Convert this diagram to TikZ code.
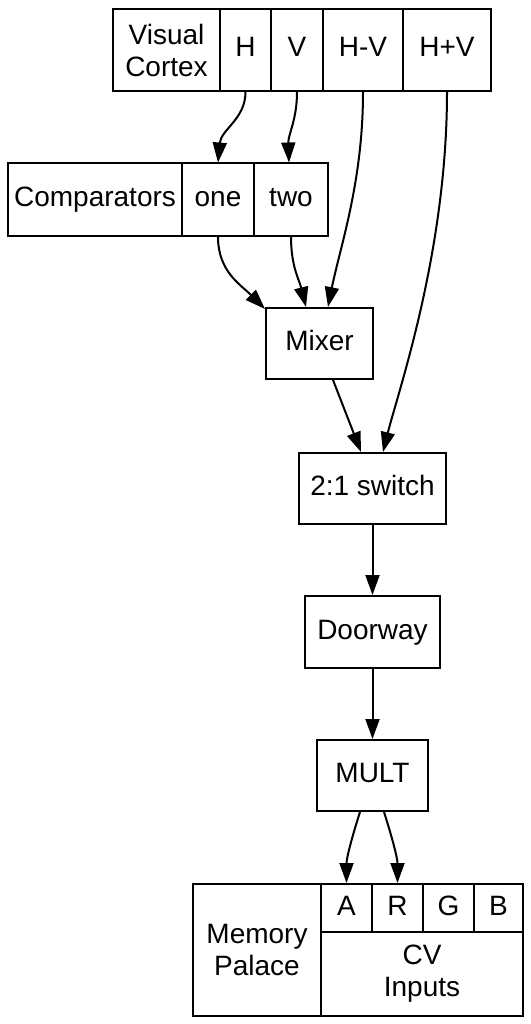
\documentclass[tikz,border=0pt]{standalone}
\usepackage{fontspec}
\setmainfont{Liberation Sans}
\usetikzlibrary{arrows.meta}
\tikzset{
  cell/.style={draw,line width=2pt,inner sep=0pt,align=center,
    font=\fontsize{28}{32}\selectfont},
  single/.style={cell,text height=20pt,text depth=6pt},
  link/.style={line width=2pt,-{Triangle[length=20pt,width=14pt]}}
}
\begin{document}
\begin{tikzpicture}[x=1pt,y=-1pt]
  \useasboundingbox (0,0) rectangle (530,1024);
  % Visual Cortex record
  \node[cell,minimum width=107pt,minimum height=82pt] (vc) at (166.5,50) {Visual\\Cortex};
  \node[single,minimum width=51pt,minimum height=82pt] (vch) at (245.5,50) {H};
  \node[single,minimum width=52pt,minimum height=82pt] (vcv) at (297,50) {V};
  \node[single,minimum width=80pt,minimum height=82pt] (vchmv) at (363,50) {H-V};
  \node[single,minimum width=88pt,minimum height=82pt] (vchpv) at (447,50) {H+V};
  % Comparators record
  \node[single,minimum width=174pt,minimum height=72pt] (cmp) at (95,199.5) {Comparators};
  \node[single,minimum width=72pt,minimum height=72pt] (cmpone) at (218,199.5) {one};
  \node[single,minimum width=74pt,minimum height=72pt] (cmptwo) at (291,199.5) {two};
  % chain
  \node[single,minimum width=107pt,minimum height=71pt] (mix) at (319.5,343.5) {Mixer};
  \node[single,minimum width=147pt,minimum height=71pt] (sw) at (372.5,488.5) {2:1 switch};
  \node[single,minimum width=135pt,minimum height=72pt] (door) at (372.5,632) {Doorway};
  \node[single,minimum width=111pt,minimum height=71pt] (mult) at (372.5,775.5) {MULT};
  % Memory Palace record
  \node[cell,minimum width=128pt,minimum height=132pt] (mp) at (257,950) {Memory\\Palace};
  \node[single,minimum width=51pt,minimum height=48pt] (mpa) at (346.5,908) {A};
  \node[single,minimum width=51pt,minimum height=48pt] (mpr) at (397.5,908) {R};
  \node[single,minimum width=51pt,minimum height=48pt] (mpg) at (448.5,908) {G};
  \node[single,minimum width=49pt,minimum height=48pt] (mpb) at (498.5,908) {B};
  \node[cell,minimum width=202pt,minimum height=84pt] (mpcv) at (422,974) {CV\\Inputs};
  % connectors
  \draw[link] (vch.south) .. controls +(0,27) and +(3,-33) .. (cmpone.north);
  \draw[link] (vcv.south) .. controls +(0,28) and +(-1,-28) .. ([xshift=-2pt]cmptwo.north);
  \draw[link] (vchmv.south) .. controls +(0,90) and +(12,-60) .. ([xshift=8.5pt]mix.north);
  \draw[link] (vchpv.south) .. controls +(0,160) and +(15,-60) .. ([xshift=10.5pt]sw.north);
  \draw[link] (cmpone.south) .. controls +(0,35) and +(-25,-25) .. ([yshift=-2pt]mix.north west);
  \draw[link] (cmptwo.south) .. controls +(0,30) and +(-7,-28) .. ([xshift=-13.5pt]mix.north);
  \draw[link] ([xshift=13.5pt]mix.south) -- ([xshift=-11.5pt]sw.north);
  \draw[link] (sw.south) -- (door.north);
  \draw[link] (door.south) -- (mult.north);
  \draw[link] ([xshift=-12.5pt]mult.south) .. controls +(-8,25) and +(0,-25) .. (mpa.north);
  \draw[link] ([xshift=11.5pt]mult.south) .. controls +(8,25) and +(0,-25) .. (mpr.north);
\end{tikzpicture}
\end{document}
